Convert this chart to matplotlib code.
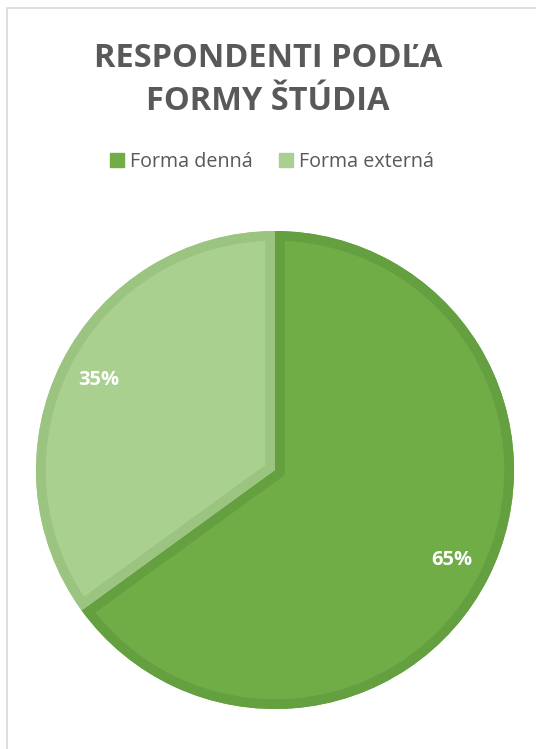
import matplotlib
matplotlib.use("Agg")
import matplotlib.pyplot as plt
from matplotlib.patches import Wedge, Rectangle

plt.rcParams['font.family'] = ['Open Sans', 'DejaVu Sans']

# data
categories = ['Forma denná', 'Forma externá']
shares = [65, 35]
fills = ['#70AD47', '#A9D08E']
borders = ['#64A03F', '#9AC47F']
title = 'RESPONDENTI PODĽA\nFORMY ŠTÚDIA'

W, H = 536, 749
fig = plt.figure(figsize=(W / 100, H / 100), dpi=100)
ax = fig.add_axes([0, 0, 1, 1])
ax.set_xlim(0, W)
ax.set_ylim(0, H)
ax.set_aspect('equal')
ax.axis('off')

# chart frame
ax.add_patch(Rectangle((6.5, -20), 600, H - 7.5 + 20, fill=False,
                       edgecolor='#D9D9D9', linewidth=1.2))

cx, cy, r = 275, H - 470, 239
wedges, _, autotexts = ax.pie(shares, colors=fills, center=(cx, cy), radius=r,
                              startangle=90, counterclock=False,
                              autopct='%d%%', pctdistance=0.83,
                              wedgeprops=dict(linewidth=0),
                              textprops=dict(color='white', fontsize=14.5,
                                             fontweight='bold'))
ax.set_xlim(0, W)
ax.set_ylim(0, H)

# inner borders of slices
for w, bc in zip(wedges, borders):
    edge = Wedge(w.center, w.r, w.theta1, w.theta2, facecolor='none',
                 edgecolor=bc, linewidth=14)
    ax.add_patch(edge)
    edge.set_clip_path(w)

fig.text(268 / W, 1 - 80 / H, title, ha='center', va='center',
         fontsize=23.5, fontweight='bold', color='#595959', linespacing=1.42)

handles = [Rectangle((0, 0), 1, 1, color=c) for c in fills]
fig.legend(handles, categories, loc='center', bbox_to_anchor=(272 / W, 1 - 162 / H),
           ncol=2, frameon=False, fontsize=14.2, labelcolor='#595959',
           handlelength=0.7, handleheight=0.7, handletextpad=0.3,
           columnspacing=1.35)

fig.savefig('out.png', dpi=100)
